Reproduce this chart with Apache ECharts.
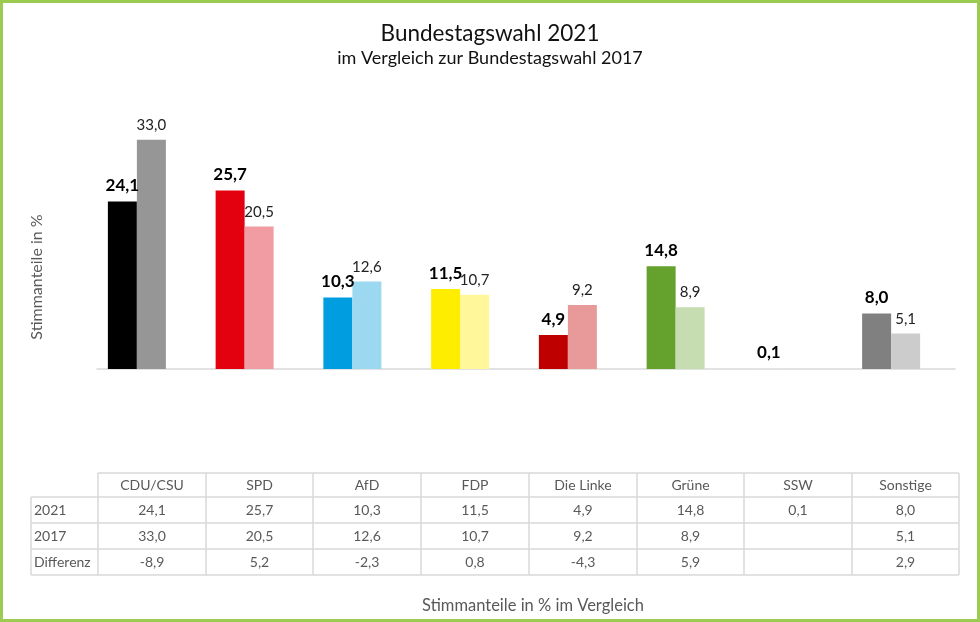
<!DOCTYPE html>
<html>
<head>
<meta charset="utf-8">
<script src="https://cdn.jsdelivr.net/npm/echarts@6/dist/echarts.min.js"></script>
<style>
html,body{margin:0;padding:0;background:#fff;}
#chart{width:980px;height:622px;}
</style>
</head>
<body>
<div id="chart"></div>
<script>
const categories = ['CDU/CSU', 'SPD', 'AfD', 'FDP', 'Die Linke', 'Grüne', 'SSW', 'Sonstige'];
const values2021 = [24.1, 25.7, 10.3, 11.5, 4.9, 14.8, 0.1, 8.0];
const values2017 = [33.0, 20.5, 12.6, 10.7, 9.2, 8.9, null, 5.1];
const difference = [-8.9, 5.2, -2.3, 0.8, -4.3, 5.9, null, 2.9];
const rowLabels = ['2021', '2017', 'Differenz'];
const colors2021 = ['#000000', '#E3000F', '#009EE0', '#FFED00', '#BE0000', '#64A12D', '#E6E6E6', '#808080'];
const colors2017 = ['#969696', '#F19CA3', '#9CD8F0', '#FFF799', '#E89A9A', '#C5DDB0', '#E6E6E6', '#CCCCCC'];

const FONT = 'Lato, "Open Sans", sans-serif';
const fmt = v => (v === null || v === undefined) ? '' : v.toFixed(1).replace('.', ',');

const chart = echarts.init(document.getElementById('chart'), null, {renderer: 'canvas'});

// ---- table built from the arrays ----
const colEdges = [98, 206, 313, 421, 529, 637, 744, 852, 959];
const tableLeft = 31;
const rowEdges = [473, 497, 523, 549, 575];
const lineColor = '#D9D9D9';
const textColor = '#595959';
const tableFont = '14px ' + FONT;
const graphics = [];

// frame
graphics.push({type: 'rect', shape: {x: 1.5, y: 1.5, width: 977, height: 619}, style: {fill: 'none', stroke: '#9BCB50', lineWidth: 3}, silent: true});

// horizontal lines
graphics.push({type: 'line', shape: {x1: colEdges[0], y1: rowEdges[0], x2: colEdges[8], y2: rowEdges[0]}, style: {stroke: lineColor, lineWidth: 1.5}});
for (let r = 1; r < rowEdges.length; r++) {
  graphics.push({type: 'line', shape: {x1: tableLeft, y1: rowEdges[r], x2: colEdges[8], y2: rowEdges[r]}, style: {stroke: lineColor, lineWidth: 1.5}});
}
// vertical lines
graphics.push({type: 'line', shape: {x1: tableLeft, y1: rowEdges[1], x2: tableLeft, y2: rowEdges[4]}, style: {stroke: lineColor, lineWidth: 1.5}});
colEdges.forEach(x => {
  graphics.push({type: 'line', shape: {x1: x, y1: rowEdges[0], x2: x, y2: rowEdges[4]}, style: {stroke: lineColor, lineWidth: 1.5}});
});
// header
categories.forEach((c, i) => {
  graphics.push({type: 'text', x: (colEdges[i] + colEdges[i + 1]) / 2, y: (rowEdges[0] + rowEdges[1]) / 2,
    style: {text: c, fill: textColor, font: tableFont, align: 'center', verticalAlign: 'middle'}});
});
const rows = [values2021, values2017, difference];
rows.forEach((arr, r) => {
  const yc = (rowEdges[r + 1] + rowEdges[r + 2]) / 2;
  graphics.push({type: 'text', x: tableLeft + 3, y: yc,
    style: {text: rowLabels[r], fill: textColor, font: tableFont, align: 'left', verticalAlign: 'middle'}});
  arr.forEach((v, i) => {
    graphics.push({type: 'text', x: (colEdges[i] + colEdges[i + 1]) / 2, y: yc,
      style: {text: fmt(v), fill: textColor, font: tableFont, align: 'center', verticalAlign: 'middle'}});
  });
});

const option = {
  backgroundColor: '#ffffff',
  animation: false,
  title: [
    {text: 'Bundestagswahl 2021', left: 'center', top: 17, textStyle: {fontFamily: FONT, fontSize: 22.5, fontWeight: 'normal', color: '#111'}},
    {text: 'im Vergleich zur Bundestagswahl 2017', left: 'center', top: 44, textStyle: {fontFamily: FONT, fontSize: 18, fontWeight: 'normal', color: '#111'}},
    {text: 'Stimmanteile in % im Vergleich', left: 528, textAlign: 'center', top: 592, textStyle: {fontFamily: FONT, fontSize: 16.5, fontWeight: 'normal', color: textColor}}
  ],
  grid: [
    {left: 83, width: 862, top: 91, height: 278},
    {left: 97, right: 25, top: 91, height: 278}
  ],
  xAxis: [
    {type: 'category', gridIndex: 0, data: categories, axisLine: {show: false}, axisTick: {show: false}, axisLabel: {show: false}},
    {type: 'category', gridIndex: 1, data: categories, axisLine: {show: true, lineStyle: {color: '#D9D9D9', width: 1.5}}, axisTick: {show: false}, axisLabel: {show: false}}
  ],
  yAxis: [
    {type: 'value', gridIndex: 0, min: 0, max: 40, show: false},
    {type: 'value', gridIndex: 1, min: 0, max: 40, show: false}
  ],
  graphic: graphics.concat([
    {type: 'text', x: 37, y: 277, rotation: Math.PI / 2,
      style: {text: 'Stimmanteile in %', fill: textColor, font: '16px ' + FONT, align: 'center', verticalAlign: 'middle'}}
  ]),
  series: [
    {
      type: 'bar', name: '2021', xAxisIndex: 0, yAxisIndex: 0,
      barWidth: 29, barGap: '0%',
      data: values2021.map((v, i) => ({value: v, itemStyle: {color: colors2021[i]}})),
      label: {show: true, position: 'top', distance: 7, formatter: p => fmt(p.value),
        fontFamily: FONT, fontSize: 17, fontWeight: 'bold', color: '#000'}
    },
    {
      type: 'bar', name: '2017', xAxisIndex: 0, yAxisIndex: 0,
      barWidth: 29, barGap: '0%',
      data: values2017.map((v, i) => ({value: v, itemStyle: {color: colors2017[i]}})),
      label: {show: true, position: 'top', distance: 7, formatter: p => fmt(p.value),
        fontFamily: FONT, fontSize: 15, color: '#222'}
    }
  ]
};
chart.setOption(option);
</script>
</body>
</html>
